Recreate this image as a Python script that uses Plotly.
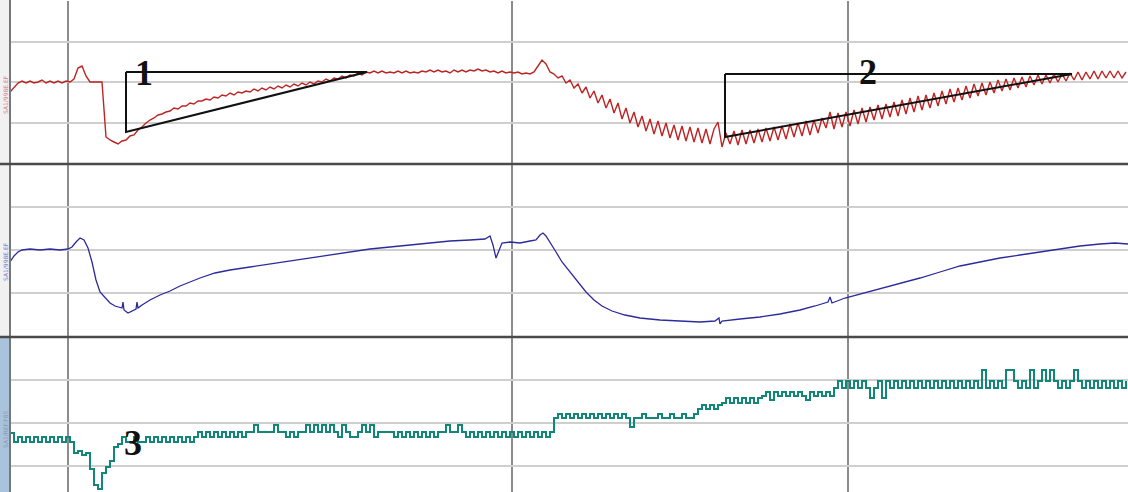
import plotly.graph_objects as go

# ---------------- data ----------------
# time axis (sample index) shared by all three recorder channels
red_t0, red_dt = 10, 4
red_v = [
    71, 76, 80, 82, 80, 82, 80, 81, 83, 80,
    82, 80, 82, 80, 82, 81, 84, 95, 97, 87,
    81, 81, 81, 81, 26, 23, 21, 19, 22, 23,
    27, 28, 33, 36, 40, 43, 45, 48, 49, 51,
    52, 55, 54, 57, 57, 60, 59, 62, 62, 64,
    63, 66, 65, 68, 67, 70, 68, 71, 70, 72,
    71, 74, 72, 75, 73, 76, 74, 77, 75, 78,
    76, 79, 77, 80, 78, 81, 79, 82, 81, 84,
    82, 85, 84, 87, 85, 88, 87, 90, 88, 91,
    90, 92, 90, 92, 90, 91, 90, 92, 90, 92,
    90, 91, 90, 92, 91, 93, 91, 93, 91, 92,
    90, 93, 91, 93, 91, 93, 92, 94, 92, 93,
    91, 92, 90, 92, 90, 91, 90, 91, 89, 90,
    89, 91, 97, 103, 99, 91, 89, 85, 87, 80,
    83, 75, 79, 70, 76, 65, 72, 60, 68, 55,
    64, 50, 60, 44, 55, 40, 51, 36, 47, 32,
    44, 29, 42, 27, 40, 25, 38, 23, 37, 22,
    36, 21, 35, 20, 34, 19, 34, 41, 16, 30,
    19, 32, 18, 33, 19, 33, 20, 34, 21, 35,
    22, 36, 23, 37, 24, 39, 26, 40, 27, 42,
    28, 43, 30, 45, 35, 51, 34, 50, 36, 51,
    37, 53, 39, 55, 41, 56, 43, 58, 44, 59,
    46, 61, 47, 63, 49, 65, 51, 67, 53, 68,
    55, 70, 57, 72, 59, 74, 61, 75, 63, 77,
    65, 79, 67, 80, 68, 81, 70, 83, 72, 84,
    73, 85, 75, 86, 76, 87, 78, 88, 79, 88,
    80, 89, 81, 89, 82, 90, 83, 91, 83, 91,
    84, 92, 84, 92, 85, 92, 85, 92, 85, 91,
]

blue_t = [10, 14, 18, 22, 30, 40, 50, 60, 68, 72, 76, 80, 84, 88, 92, 96, 100, 105,
          110, 115, 120, 122, 123, 124, 128, 132, 136, 137, 138, 142, 150, 160, 170,
          180, 190, 200, 215, 230, 250, 270, 290, 310, 330, 350, 370, 390, 410, 430,
          450, 470, 485, 490, 493, 496, 499, 502, 510, 520, 530, 536, 540, 543, 546,
          550, 556, 562, 570, 578, 586, 594, 602, 612, 625, 640, 660, 680, 700, 715,
          719, 720, 722, 740, 760, 780, 800, 815, 828, 830, 832, 845, 860, 880, 900,
          920, 940, 960, 980, 1000, 1020, 1040, 1060, 1080, 1100, 1115, 1128]
blue_v = [74, 80, 84, 86, 87, 86, 87, 86, 87, 89, 94, 98, 96, 88, 74, 56, 44, 38,
          33, 30, 28, 28, 34, 26, 23, 25, 27, 34, 28, 31, 36, 41, 45,
          50, 54, 58, 63, 66, 69, 72, 75, 78, 81, 84, 87, 89, 91, 93,
          95, 96, 97, 100, 91, 78, 86, 93, 94, 93, 95, 96, 101, 103, 100,
          93, 84, 74, 64, 53, 44, 36, 30, 25, 21, 18, 16, 15, 14, 15,
          18, 12, 15, 17, 19, 22, 26, 30, 34, 39, 33, 38, 42, 47, 52,
          58, 64, 70, 74, 78, 81, 84, 87, 90, 92, 93, 92]

green_t0, green_dt = 10, 4
green_v = [
    76, 67, 72, 67, 72, 67, 72, 67, 72, 67,
    72, 67, 72, 67, 72, 67, 56, 58, 54, 56,
    40, 24, 20, 36, 42, 48, 62, 65, 72, 67,
    67, 72, 67, 67, 72, 67, 72, 67, 72, 67,
    72, 67, 72, 67, 72, 67, 72, 77, 72, 77,
    72, 77, 72, 77, 72, 77, 72, 77, 72, 77,
    77, 84, 77, 77, 77, 77, 84, 77, 77, 72,
    77, 72, 77, 77, 84, 77, 84, 77, 84, 77,
    84, 77, 72, 84, 77, 72, 72, 77, 84, 77,
    84, 72, 77, 77, 77, 77, 72, 77, 72, 77,
    72, 77, 72, 77, 72, 77, 72, 77, 77, 84,
    77, 77, 84, 77, 72, 77, 72, 77, 72, 77,
    72, 77, 72, 77, 72, 77, 72, 77, 72, 77,
    72, 77, 72, 77, 72, 77, 91, 95, 91, 95,
    91, 95, 91, 95, 91, 95, 91, 95, 91, 95,
    91, 95, 91, 95, 91, 82, 91, 91, 95, 91,
    91, 91, 95, 91, 91, 95, 91, 91, 95, 91,
    91, 95, 100, 104, 100, 104, 100, 104, 106, 111,
    106, 111, 106, 111, 106, 111, 106, 111, 113, 117,
    109, 117, 113, 117, 113, 117, 113, 117, 113, 109,
    117, 113, 117, 113, 117, 113, 121, 128, 121, 128,
    121, 128, 121, 128, 121, 111, 121, 128, 111, 128,
    121, 128, 121, 128, 121, 128, 121, 128, 121, 128,
    121, 128, 121, 128, 121, 128, 121, 128, 121, 128,
    121, 128, 121, 139, 121, 128, 121, 128, 121, 139,
    139, 128, 121, 128, 121, 139, 121, 128, 139, 128,
    139, 128, 121, 128, 121, 128, 139, 128, 121, 128,
    121, 128, 121, 128, 121, 128, 121, 128, 121, 128,
]

# recovery triangles drawn over the top channel
tri1_t = [126, 126, 367, 126]
tri1_v = [91, 31, 91, 91]
tri2_t = [725, 725, 1072, 725]
tri2_v = [89, 26, 89, 89]

marker_labels = ["1", "2", "3"]
marker_t = [144, 868, 133]
marker_v = [90, 91, 66]
marker_axis = ["y", "y", "y3"]

channel_names = ["SA1/998E.EF", "SA1/998E.EF", "SA1/REF.F85"]
channel_colors = ["#d98080", "#7a7ac8", "#8a9aaa"]

vgrid_t = [68, 512, 848]

# ---------------- figure ----------------
red_t = [red_t0 + red_dt * i for i in range(len(red_v))]
green_t = [green_t0 + green_dt * i for i in range(len(green_v))]

W, H = 1128, 492
x0 = 10 / W

fig = go.Figure()
fig.add_trace(go.Scatter(x=red_t, y=red_v, mode="lines",
                         line=dict(color="#bf2424", width=1.4), xaxis="x", yaxis="y"))
fig.add_trace(go.Scatter(x=tri1_t, y=tri1_v, mode="lines",
                         line=dict(color="#111111", width=2), xaxis="x", yaxis="y"))
fig.add_trace(go.Scatter(x=tri2_t, y=tri2_v, mode="lines",
                         line=dict(color="#111111", width=2), xaxis="x", yaxis="y"))
fig.add_trace(go.Scatter(x=blue_t, y=blue_v, mode="lines",
                         line=dict(color="#2b2b9c", width=1.3), xaxis="x2", yaxis="y2"))
fig.add_trace(go.Scatter(x=green_t, y=green_v, mode="lines", line_shape="hv",
                         line=dict(color="#11877a", width=2), xaxis="x3", yaxis="y3"))

xcommon = dict(range=[10, 1128], showticklabels=False, ticks="", showline=False,
               zeroline=False, tickmode="array", tickvals=vgrid_t,
               showgrid=True, gridcolor="#8c8c8c", gridwidth=1.5)
ycommon = dict(showticklabels=False, ticks="", showline=False, zeroline=False,
               showgrid=True, gridcolor="#cfcfcf", gridwidth=2)

fig.update_layout(
    width=W, height=H, margin=dict(l=0, r=0, t=0, b=0),
    paper_bgcolor="white", plot_bgcolor="white", showlegend=False,
    xaxis=dict(domain=[x0, 1], anchor="y", **xcommon),
    xaxis2=dict(domain=[x0, 1], anchor="y2", matches="x", **xcommon),
    xaxis3=dict(domain=[x0, 1], anchor="y3", matches="x", **xcommon),
    yaxis=dict(domain=[(H - 163) / H, (H - 1) / H], range=[0, 162],
               tick0=0, dtick=40.5, **ycommon),
    yaxis2=dict(domain=[(H - 336) / H, (H - 165) / H], range=[0, 171],
                tick0=0, dtick=43, **ycommon),
    yaxis3=dict(domain=[0, (H - 338) / H], range=[17, 171],
                tick0=0, dtick=43, **ycommon),
)

shapes = []
# left label strips
strip_bounds = [((H - 163) / H, 1), ((H - 337) / H, (H - 163) / H), (0, (H - 337) / H)]
strip_fill = ["#f1f1f1", "#f1f1f1", "#a9c3dd"]
for (b0, b1), fc in zip(strip_bounds, strip_fill):
    shapes.append(dict(type="rect", xref="paper", yref="paper", x0=0, x1=x0,
                       y0=b0, y1=b1, fillcolor=fc, line=dict(width=0), layer="below"))
# left border
shapes.append(dict(type="line", xref="paper", yref="paper", x0=x0, x1=x0, y0=0, y1=1,
                   line=dict(color="#777777", width=2)))
# panel separators
for py in (164, 337):
    shapes.append(dict(type="line", xref="paper", yref="paper", x0=0, x1=1,
                       y0=(H - py) / H, y1=(H - py) / H,
                       line=dict(color="#4a4a4a", width=2.5)))
fig.update_layout(shapes=shapes)

annos = []
for lab, t, v, ax in zip(marker_labels, marker_t, marker_v, marker_axis):
    annos.append(dict(text=f"<b>{lab}</b>", x=t, y=v, xref="x", yref=ax,
                      showarrow=False, xanchor="center", yanchor="middle",
                      font=dict(family="Liberation Serif", size=36, color="#111111")))
strip_centers = [(H - 95) / H, (H - 262) / H, (H - 430) / H]
for name, col, yc in zip(channel_names, channel_colors, strip_centers):
    annos.append(dict(text=name, x=5 / W, y=yc, xref="paper", yref="paper",
                      showarrow=False, textangle=-90, xanchor="center", yanchor="middle",
                      font=dict(family="DejaVu Sans", size=6, color=col)))
fig.update_layout(annotations=annos)

fig.write_html("out.html")
